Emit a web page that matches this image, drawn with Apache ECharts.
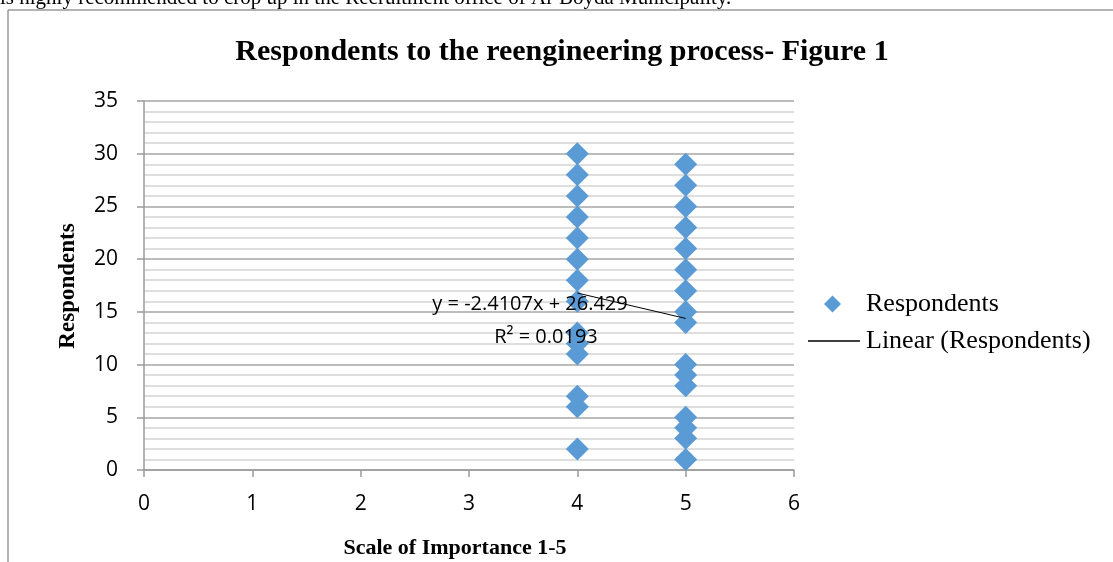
<!DOCTYPE html>
<html>
<head>
<meta charset="utf-8">
<script src="https://cdn.jsdelivr.net/npm/echarts@6/dist/echarts.min.js"></script>
<style>
html,body{margin:0;padding:0;background:#fff;}
#chart{width:1113px;height:562px;}
</style>
</head>
<body>
<div id="chart"></div>
<script>
// Data
const scaleX4 = [4,4,4,4,4,4,4,4,4,4,4,4,4,4];
const respondentsX4 = [30,28,26,24,22,20,18,16,13,12,11,7,6,2];
const scaleX5 = [5,5,5,5,5,5,5,5,5,5,5,5,5,5,5,5];
const respondentsX5 = [29,27,25,23,21,19,17,15,14,10,9,8,5,4,3,1];
const trendSlope = -2.4107;
const trendIntercept = 26.429;
const trendXRange = [4, 5];
const equationText = 'y = -2.4107x + 26.429';
const r2Text = 'R² = 0.0193';
const xTicks = [0,1,2,3,4,5,6];
const yTicks = [0,5,10,15,20,25,30,35];
const titleText = 'Respondents to the reengineering process- Figure 1';
const xAxisTitle = 'Scale of Importance 1-5';
const yAxisTitle = 'Respondents';
const headerText = 'is highly recommended to crop up in the Recruitment office of Al-Boyda Municipality.';

const points = scaleX4.map((x,i)=>[x, respondentsX4[i]])
  .concat(scaleX5.map((x,i)=>[x, respondentsX5[i]]));
const trend = trendXRange.map(x => [x, trendSlope * x + trendIntercept]);

const sans = "'Open Sans', 'Noto Sans', sans-serif";
const serif = "'Liberation Serif', 'DejaVu Serif', serif";

const chart = echarts.init(document.getElementById('chart'));
chart.setOption({
  animation: false,
  backgroundColor: '#fff',
  grid: { left: 144, top: 101, right: 319, bottom: 92, containLabel: false },
  xAxis: {
    type: 'value', min: xTicks[0], max: xTicks[xTicks.length-1], interval: 1,
    axisLine: { show: true, lineStyle: { color: '#9a9a9a', width: 1.5 } },
    axisTick: { show: true, length: 7, lineStyle: { color: '#9a9a9a', width: 1.5 } },
    axisLabel: { color: '#000', fontFamily: sans, fontSize: 21, margin: 24 },
    splitLine: { show: false }
  },
  yAxis: {
    type: 'value', min: yTicks[0], max: yTicks[yTicks.length-1], interval: 5,
    axisLine: { show: true, lineStyle: { color: '#9a9a9a', width: 1.5 } },
    axisTick: { show: true, length: 7, lineStyle: { color: '#9a9a9a', width: 1.5 } },
    axisLabel: { color: '#000', fontFamily: sans, fontSize: 21, margin: 26 },
    splitLine: { show: true, lineStyle: { color: '#a6a6a6', width: 1.5 } },
    minorSplitLine: { show: true, lineStyle: { color: '#d4d4d4', width: 1.5 } },
    minorTick: { show: false, splitNumber: 5 }
  },
  legend: [
    {
      data: [{ name: 'Respondents', icon: 'diamond' }],
      left: 824, top: 291, orient: 'vertical', padding: 0,
      itemWidth: 17, itemHeight: 17,
      textStyle: { fontFamily: serif, fontSize: 26, color: '#000', padding: [0,0,0,20] }
    },
    {
      data: [{ name: 'Linear (Respondents)', icon: 'rect' }],
      left: 808, top: 328, orient: 'vertical', padding: 0,
      itemWidth: 52, itemHeight: 1.5,
      textStyle: { fontFamily: serif, fontSize: 26, color: '#000', padding: [0,0,0,1] }
    }
  ],
  series: [
    {
      name: 'Respondents', type: 'scatter', data: points,
      symbol: 'diamond', symbolSize: 23,
      itemStyle: { color: '#5B9BD5', opacity: 1 }
    },
    {
      name: 'Linear (Respondents)', type: 'line', data: trend,
      symbol: 'none', lineStyle: { color: '#000', width: 1 },
      itemStyle: { color: '#000' }, z: 3
    }
  ],
  graphic: [
    { type: 'line', shape: { x1: 8, y1: 10, x2: 1113, y2: 10 }, style: { stroke: '#9a9a9a', lineWidth: 1.5 } },
    { type: 'line', shape: { x1: 8, y1: 10, x2: 8, y2: 562 }, style: { stroke: '#9a9a9a', lineWidth: 1.5 } },
    { type: 'text', x: 0, y: 9, style: { text: headerText, font: "21px 'Liberation Serif', serif", fill: '#000', align: 'left', verticalAlign: 'bottom' } },
    { type: 'text', x: 562, y: 52, style: { text: titleText, font: "bold 30px 'Liberation Serif', serif", fill: '#000', align: 'center', verticalAlign: 'middle' } },
    { type: 'text', x: 455, y: 548, style: { text: xAxisTitle, font: "bold 22px 'Liberation Serif', serif", fill: '#000', align: 'center', verticalAlign: 'middle' } },
    { type: 'text', x: 68, y: 286, rotation: Math.PI/2, style: { text: yAxisTitle, font: "bold 23px 'Liberation Serif', serif", fill: '#000', align: 'center', verticalAlign: 'middle' } },
    { type: 'text', x: 530, y: 304, z: 10, style: { text: equationText, font: "20px 'Open Sans', sans-serif", fill: '#000', align: 'center', verticalAlign: 'middle' } },
    { type: 'text', x: 546, y: 337, z: 10, style: { text: r2Text, font: "20px 'Open Sans', sans-serif", fill: '#000', align: 'center', verticalAlign: 'middle' } }
  ]
});
</script>
</body>
</html>
